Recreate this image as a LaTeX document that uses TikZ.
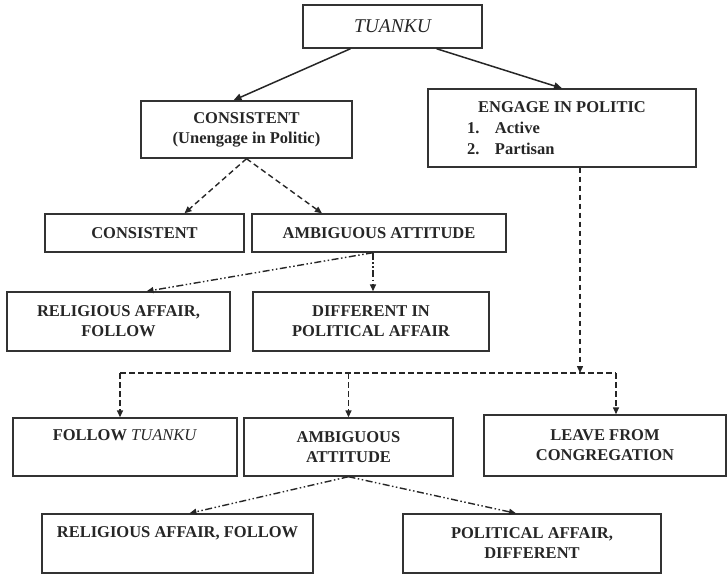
\documentclass[tikz,border=0pt]{standalone}
\usepackage{fontspec}
\setmainfont{Liberation Serif}
\usetikzlibrary{arrows.meta}

\tikzset{
  box/.style={draw=black!80, line width=1.4pt, inner sep=0pt, align=center,
    text=black!85, font=\bfseries\fontsize{16.5}{20}\selectfont},
  solidarr/.style={line width=1.5pt, black!85, -{Triangle[length=8pt,width=7pt]}},
  dasharr/.style={line width=1.4pt, black!85, dash pattern=on 5.5pt off 3.5pt,
    -{Triangle[length=7pt,width=6pt]}},
  mixarr/.style={line width=1.4pt, black!85,
    dash pattern=on 7pt off 2.5pt on 1.5pt off 2.5pt on 1.5pt off 2.5pt,
    -{Triangle[length=7pt,width=6pt]}}
}

\begin{document}
\begin{tikzpicture}[x=1pt,y=-1pt]

\useasboundingbox (0,0) rectangle (728,582) ;

\node[box, minimum width=179, minimum height=43, font=\mdseries\itshape\fontsize{19.5}{20}\selectfont] (tuanku) at (392.5,26.5) {TUANKU} ;

\node[box, minimum width=211, minimum height=57] (consA) at (246.5,129.5) {CONSISTENT\\(Unengage in Politic)} ;
\node[box, minimum width=268, minimum height=78, align=left, font=\bfseries\fontsize{16.5}{21}\selectfont] (engage) at (562,128)
  {\makebox[268pt]{ENGAGE IN POLITIC}\\
   \hspace*{39pt}\makebox[28pt][l]{1.}Active\\
   \hspace*{39pt}\makebox[28pt][l]{2.}Partisan} ;

\node[box, minimum width=199, minimum height=38] (consB) at (144.5,233) {CONSISTENT} ;
\node[box, minimum width=254, minimum height=38] (ambigA) at (379,233) {AMBIGUOUS ATTITUDE} ;

\node[box, minimum width=223, minimum height=59] (religA) at (118.5,321.5) {RELIGIOUS AFFAIR,\\FOLLOW} ;
\node[box, minimum width=236, minimum height=59] (diffA) at (371,321.5) {DIFFERENT IN\\POLITICAL AFFAIR} ;

\node[box, minimum width=224, text height=22pt, text depth=36pt] (follow) at (125,447) {FOLLOW \textit{\mdseries TUANKU}} ;
\node[box, minimum width=209, minimum height=58] (ambigB) at (348.5,447) {AMBIGUOUS\\ATTITUDE} ;
\node[box, minimum width=242, minimum height=61] (leave) at (605,445.5) {LEAVE FROM\\CONGREGATION} ;

\node[box, minimum width=271, text height=23pt, text depth=36pt] (religB) at (177.5,543.5) {RELIGIOUS AFFAIR, FOLLOW} ;
\node[box, minimum width=258, minimum height=59] (polit) at (532,543.5) {POLITICAL AFFAIR,\\DIFFERENT} ;

% first level
\draw[solidarr] ([xshift=-42]tuanku.south) -- ([xshift=-13]consA.north) ;
\draw[solidarr] ([xshift=44]tuanku.south) -- (engage.north) ;

% unengaged
\draw[dasharr] (consA.south) -- ([xshift=40]consB.north) ;
\draw[dasharr] (consA.south) -- ([xshift=-57]ambigA.north) ;

\draw[mixarr] ([xshift=-6]ambigA.south) -- ([xshift=28]religA.north) ;
\draw[mixarr] ([xshift=-6]ambigA.south) -- ([xshift=-6]ambigA.south |- diffA.north) ;

% engaged
\coordinate (junc) at (580,373) ;
\coordinate (jl) at (120,373) ;
\coordinate (jr) at (616,373) ;

\draw[dasharr] ([xshift=18]engage.south) -- (junc) ;
\draw[dasharr, -] (jl) -- (jr) ;
\draw[dasharr] (jl) -- (jl |- follow.north) ;
\draw[dasharr] (jl -| ambigB.north) -- (ambigB.north) ;
\draw[dasharr] (jr) -- (jr |- leave.north) ;

\draw[mixarr] (ambigB.south) -- ([xshift=12]religB.north) ;
\draw[mixarr] (ambigB.south) -- ([xshift=-16]polit.north) ;

\end{tikzpicture}
\end{document}
